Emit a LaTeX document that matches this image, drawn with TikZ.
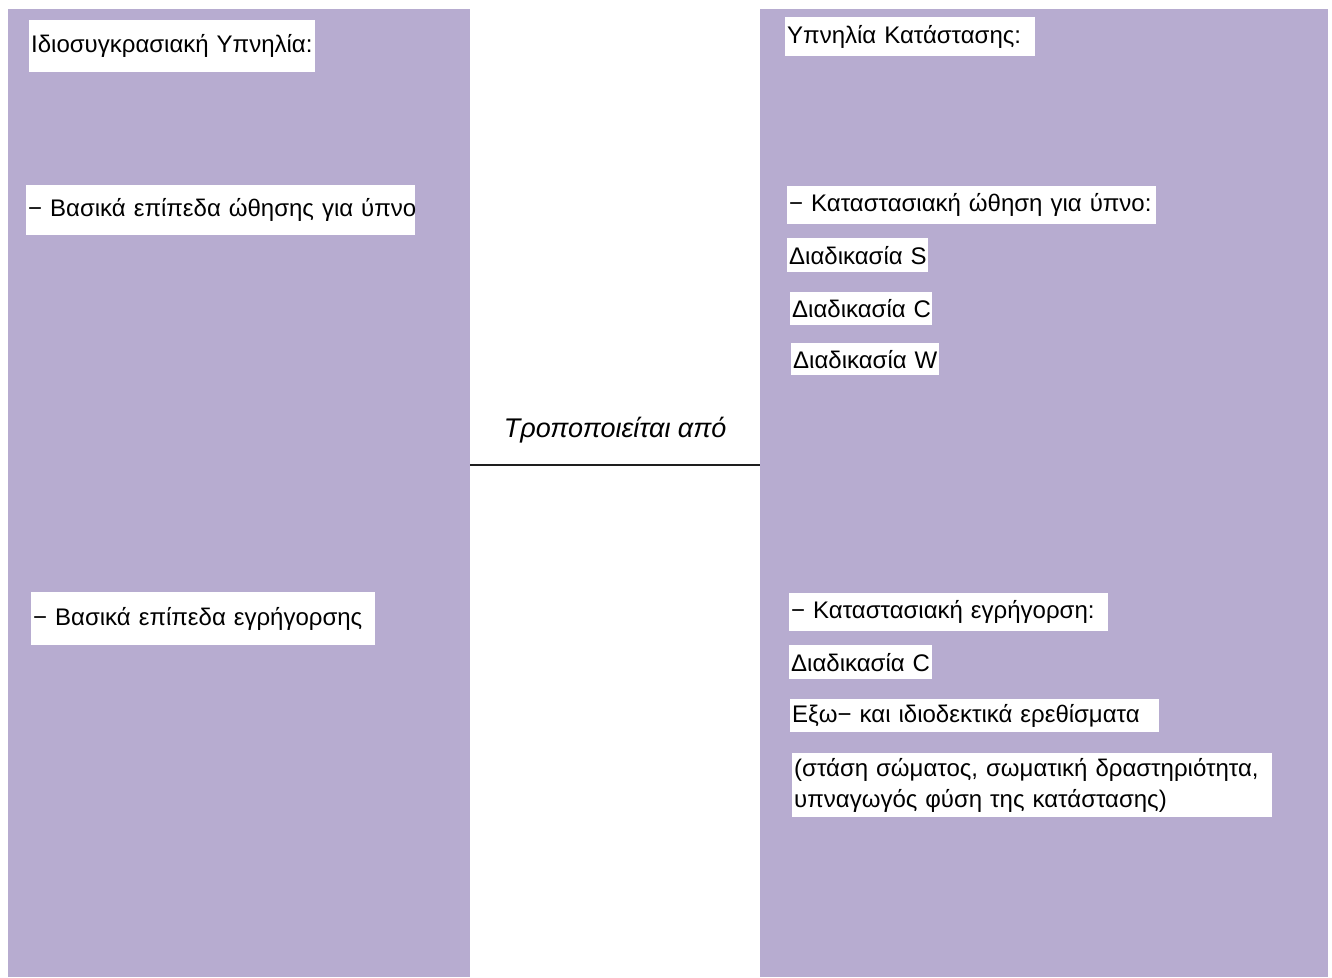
\documentclass[tikz,border=0pt]{standalone}
\usepackage{fontspec}
\setmainfont{Liberation Sans}
\definecolor{panelc}{RGB}{183,172,208}
\definecolor{linec}{RGB}{30,30,30}
\tikzset{
  panel/.style={fill=panelc, draw=none, inner sep=0pt, anchor=north west},
  tbox/.style={fill=white, draw=none, anchor=north west, inner xsep=2pt, inner ysep=0pt, align=left, font=\fontsize{24}{31}\selectfont},
  relline/.style={draw=linec, line width=2.5pt},
  rellabel/.style={font=\fontsize{27}{30}\selectfont\itshape, above=17pt}
}
\begin{document}
\begin{tikzpicture}[x=1pt,y=-1pt]
\useasboundingbox (0,0) rectangle (1332,977);
% panels
\node[panel, minimum width=462pt, minimum height=968pt] (L) at (8,9) {};
\node[panel, minimum width=568pt, minimum height=968pt] (R) at (760,9) {};
% left boxes
\node[tbox, text width=282pt, minimum height=52pt] (l1) at (29,20) {\mbox{Ιδιοσυγκρασιακή Υπνηλία:}};
\node[tbox, text width=385pt, minimum height=50pt] (l2) at (26,185) {\mbox{− Βασικά επίπεδα ώθησης για ύπνο}};
\node[tbox, text width=340pt, minimum height=53pt] (l3) at (31,592) {\mbox{− Βασικά επίπεδα εγρήγορσης}};
% right boxes
\node[tbox, text width=246pt, minimum height=39pt] (r1) at (785,17) {\mbox{Υπνηλία Κατάστασης:}};
\node[tbox, text width=365pt, minimum height=38pt] (r2) at (787,186) {\mbox{− Καταστασιακή ώθηση για ύπνο:}};
\node[tbox, text width=137pt, minimum height=34pt] (r3) at (787,238) {\mbox{Διαδικασία S}};
\node[tbox, text width=138pt, minimum height=33pt] (r4) at (790,292) {\mbox{Διαδικασία C}};
\node[tbox, text width=144pt, minimum height=32pt] (r5) at (791,343) {\mbox{Διαδικασία W}};
\node[tbox, text width=315pt, minimum height=38pt] (r6) at (789,593) {\mbox{− Καταστασιακή εγρήγορση:}};
\node[tbox, text width=139pt, minimum height=34pt] (r7) at (789,645) {\mbox{Διαδικασία C}};
\node[tbox, text width=365pt, minimum height=33pt] (r8) at (790,699) {\mbox{Εξω− και ιδιοδεκτικά ερεθίσματα}};
\node[tbox, text width=476pt, minimum height=64pt] (r9) at (792,753) {\mbox{(στάση σώματος, σωματική δραστηριότητα,}\\\mbox{υπναγωγός φύση της κατάστασης)}};
% connector
\coordinate (cy) at (0,465);
\draw[relline] (L.east |- cy) -- (R.west |- cy) node[midway, rellabel] (lab) {Τροποποιείται από};
\end{tikzpicture}
\end{document}
